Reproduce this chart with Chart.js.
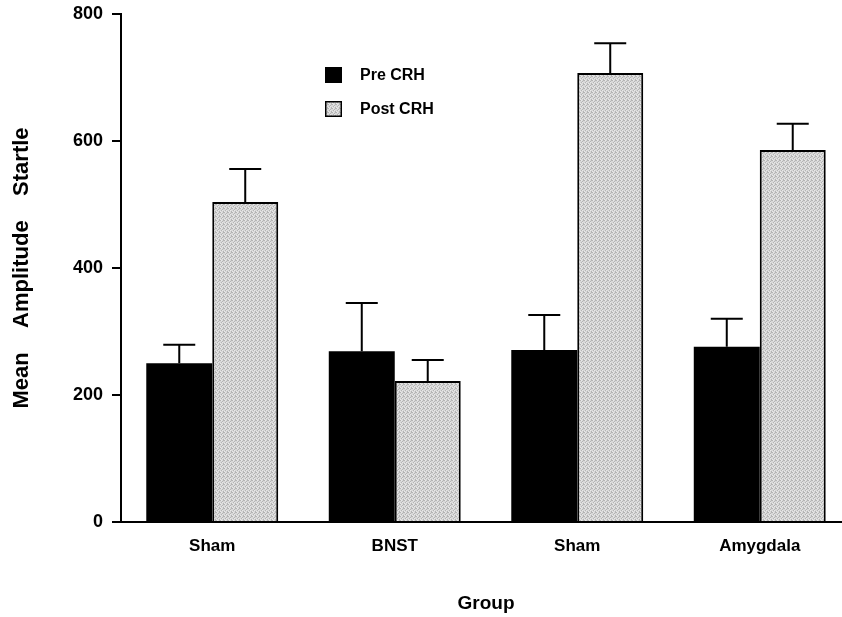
<!DOCTYPE html>
<html>
<head>
<meta charset="utf-8">
<script src="https://cdn.jsdelivr.net/npm/chart.js@4"></script>
<style>
  html, body { margin: 0; padding: 0; background: #fff; overflow: hidden; }
  #wrap { width: 852px; height: 617px; }
</style>
</head>
<body>
<div id="wrap"><canvas id="chart" width="852" height="617"></canvas></div>
<script>
const groups = ["Sham", "BNST", "Sham", "Amygdala"];
const preCRH = [250, 269, 271, 276];
const preCRHErr = [29, 76, 55, 44];
const postCRH = [504, 222, 707, 586];
const postCRHErr = [52, 33, 47, 41];
const yTicks = [0, 200, 400, 600, 800];

const fontFamily = "'Liberation Sans', Arial, Helvetica, sans-serif";

// speckled light grey like the scanned fill
const makeStipple = () => {
  const c = document.createElement("canvas");
  c.width = 4;
  c.height = 4;
  const g = c.getContext("2d");
  g.fillStyle = "#d8d8d8";
  g.fillRect(0, 0, 4, 4);
  g.fillStyle = "#b4b4b4";
  [[0, 0], [2, 1], [1, 2], [3, 3], [3, 0]].forEach(([px, py]) => g.fillRect(px, py, 1, 1));
  g.fillStyle = "#e8e8e8";
  [[1, 0], [0, 3], [2, 2]].forEach(([px, py]) => g.fillRect(px, py, 1, 1));
  return g.createPattern(c, "repeat");
};
const stipple = makeStipple();

const errorBars = {
  id: "errorBars",
  afterDatasetsDraw(chart) {
    const { ctx } = chart;
    const y = chart.scales.y;
    ctx.save();
    ctx.strokeStyle = "#000";
    ctx.lineWidth = 2;
    chart.data.datasets.forEach((ds, i) => {
      const meta = chart.getDatasetMeta(i);
      meta.data.forEach((bar, j) => {
        const top = y.getPixelForValue(ds.data[j] + ds.errors[j]);
        const base = y.getPixelForValue(ds.data[j]);
        ctx.beginPath();
        ctx.moveTo(bar.x, base);
        ctx.lineTo(bar.x, top);
        ctx.moveTo(bar.x - 16, top);
        ctx.lineTo(bar.x + 16, top);
        ctx.stroke();
      });
    });
    ctx.restore();
  },
};

const boxLegend = {
  id: "boxLegend",
  afterDraw(chart) {
    const { ctx, chartArea } = chart;
    const x = chartArea.left + 204;
    let y = 67;
    ctx.save();
    ctx.font = "bold 16px " + fontFamily;
    ctx.textBaseline = "middle";
    chart.data.datasets.forEach((ds) => {
      ctx.fillStyle = ds.backgroundColor;
      ctx.fillRect(x, y, 17, 16);
      if (ds.borderWidth) {
        ctx.strokeStyle = "#000";
        ctx.lineWidth = 1.5;
        ctx.strokeRect(x + 0.75, y + 0.75, 15.5, 14.5);
      }
      ctx.fillStyle = "#000";
      ctx.fillText(ds.label, x + 35, y + 9);
      y += 34;
    });
    ctx.restore();
  },
};

new Chart(document.getElementById("chart"), {
  type: "bar",
  data: {
    labels: groups,
    datasets: [
      {
        label: "Pre CRH",
        data: preCRH,
        errors: preCRHErr,
        backgroundColor: "#000",
        borderWidth: 0,
      },
      {
        label: "Post CRH",
        data: postCRH,
        errors: postCRHErr,
        backgroundColor: stipple,
        borderColor: "#000",
        borderWidth: 2,
      },
    ],
  },
  options: {
    responsive: false,
    animation: false,
    categoryPercentage: 0.723,
    barPercentage: 1.0,
    layout: { padding: { top: 14, right: 1, left: 0, bottom: 0 } },
    plugins: {
      legend: { display: false },
      tooltip: { enabled: false },
    },
    scales: {
      x: {
        grid: { display: false, drawTicks: false },
        border: { display: true, color: "#000", width: 2 },
        ticks: {
          color: "#000",
          padding: 14,
          font: { family: fontFamily, size: 17, weight: "bold" },
        },
        title: {
          display: true,
          text: "Group",
          color: "#000",
          padding: { top: 0, bottom: 2 },
          font: { family: fontFamily, size: 19, weight: "bold" },
        },
        afterFit: (scale) => {
          scale.height = 95;
          scale.paddingLeft = 0;
          scale.paddingRight = 0;
        },
      },
      y: {
        min: 0,
        max: 800,
        afterBuildTicks: (scale) => {
          scale.ticks = yTicks.map((v) => ({ value: v }));
        },
        grid: {
          drawOnChartArea: false,
          drawTicks: true,
          tickLength: 9,
          color: "#000",
          lineWidth: 2,
        },
        border: { display: true, color: "#000", width: 2 },
        ticks: {
          color: "#000",
          padding: 9,
          font: { family: fontFamily, size: 18, weight: "bold" },
        },
        title: {
          display: true,
          text: "Mean    Amplitude    Startle",
          color: "#000",
          padding: { top: 9, bottom: 0 },
          font: { family: fontFamily, size: 22, weight: "bold" },
        },
        afterFit: (scale) => {
          scale.width = 121;
          scale.paddingTop = 0;
          scale.paddingBottom = 0;
        },
      },
    },
  },
  plugins: [errorBars, boxLegend],
});
</script>
</body>
</html>
